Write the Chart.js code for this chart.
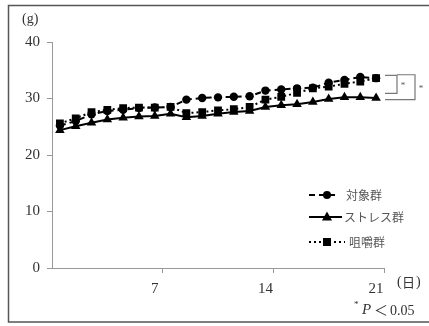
<!DOCTYPE html>
<html><head><meta charset="utf-8">
<script src="https://cdn.jsdelivr.net/npm/chart.js@4/dist/chart.umd.min.js"></script>
<style>html,body{margin:0;padding:0;background:#fff}#wrap{width:429px;height:326px;position:relative}</style>
</head><body><div id="wrap"><canvas id="c" width="429" height="326"></canvas></div>
<script>
const days = ['1','2','3','4','5','6','7','8','9','10','11','12','13','14','15','16','17','18','19','20','21'];
const shownDayLabels = ['7','14','21'];
const seriesNames = ['対象群','ストレス群','咀嚼群'];
const controlValues = [25.2,26.0,27.2,27.8,28.0,28.3,28.4,28.5,29.8,30.1,30.2,30.3,30.4,31.4,31.6,31.8,31.9,32.8,33.3,33.8,33.6];
const stressValues  = [24.4,25.1,25.7,26.3,26.6,26.8,26.9,27.3,26.7,26.9,27.3,27.6,27.8,28.5,28.8,29.0,29.4,29.9,30.2,30.2,30.1];
const chewValues    = [25.6,26.5,27.6,28.0,28.3,28.4,28.4,28.5,27.4,27.6,27.9,28.1,28.5,29.8,30.3,31.0,31.8,32.1,32.6,33.0,33.6];
const yTicks = [0,10,20,30,40];
const bracketRanges = [[34.1,30.9],[34.2,29.8]];

const serif = "'Liberation Serif','DejaVu Serif',serif";
const jp = "'Noto Sans CJK JP','Noto Sans',sans-serif";

const extras = {
  id:'extras',
  beforeDraw(chart){
    const c = chart.ctx;
    c.save();
    c.fillStyle='#fff'; c.fillRect(0,0,chart.width,chart.height);
    c.restore();
  },
  afterDraw(chart){
    const c = chart.ctx, ca = chart.chartArea, ys = chart.scales.y;
    c.save();
    // frame
    c.strokeStyle='#555'; c.lineWidth=1.5;
    c.strokeRect(8.5,5.5,440,316.5);
    // unit labels
    c.fillStyle='#333'; c.textBaseline='middle'; c.textAlign='left';
    c.font='14px '+serif;
    c.fillText('(g)',22,19);
    c.fillText('(',397,282);
    c.font='13px '+jp; c.fillText('日',402,282);
    c.font='14px '+serif; c.fillText(')',416,282);
    // significance note
    c.font='9px '+serif; c.fillText('*',354,305);
    c.font='italic 15px '+serif; c.fillText('P',362,310);
    c.font='14px '+jp; c.fillText('＜',374,310);
    c.font='14px '+serif; c.fillText('0.05',390,311);
    // brackets
    c.strokeStyle='#777'; c.lineWidth=1.2;
    const x0 = ca.right+1;
    const b1 = bracketRanges[0], b2 = bracketRanges[1];
    let t=ys.getPixelForValue(b1[0]), b=ys.getPixelForValue(b1[1]);
    c.beginPath(); c.moveTo(x0,t); c.lineTo(x0+12,t); c.lineTo(x0+12,b); c.lineTo(x0,b); c.stroke();
    c.fillStyle='#555'; c.font='9px '+serif; c.textAlign='center';
    c.fillText('*',x0+18,(t+b)/2+1);
    t=ys.getPixelForValue(b2[0]); b=ys.getPixelForValue(b2[1]);
    c.beginPath(); c.moveTo(x0+12,t); c.lineTo(x0+30,t); c.lineTo(x0+30,b); c.lineTo(x0,b); c.stroke();
    c.fillText('*',x0+36,(t+b)/2+1);
    // legend
    const rows=[195,217,242];
    chart.data.datasets.forEach((ds,i)=>{
      const y=rows[i];
      c.strokeStyle='#000'; c.lineWidth=2; c.setLineDash(ds.borderDash||[]);
      const xe = i===0?336:(i===1?342:345);
      c.beginPath(); c.moveTo(309,y); c.lineTo(xe,y); c.stroke();
      c.setLineDash([]);
      c.fillStyle='#000';
      const px=327;
      c.beginPath();
      if(ds.pointStyle==='circle'){ c.arc(px,y,4,0,Math.PI*2); }
      else if(ds.pointStyle==='triangle'){ c.moveTo(px,y-5.5); c.lineTo(px+5,y+3.5); c.lineTo(px-5,y+3.5); c.closePath(); }
      else { c.rect(px-4,y-4,8,8); }
      c.fill();
      c.fillStyle='#555'; c.font='12px '+jp; c.textAlign='left'; c.textBaseline='middle';
      const tx = i===0?346:(i===1?344:349);
      c.fillText(ds.label,tx,y);
    });
    c.restore();
  }
};

new Chart(document.getElementById('c'),{
  type:'line',
  data:{
    labels:days,
    datasets:[
      {label:seriesNames[0],data:controlValues,borderColor:'#000',backgroundColor:'#000',borderWidth:2,borderDash:[6,4],pointStyle:'circle',pointRadius:4.2,pointBorderWidth:0},
      {label:seriesNames[1],data:stressValues,borderColor:'#000',backgroundColor:'#000',borderWidth:2,pointStyle:'triangle',pointRadius:5.5,pointBorderWidth:0},
      {label:seriesNames[2],data:chewValues,borderColor:'#000',backgroundColor:'#000',borderWidth:2,borderDash:[2,3],pointStyle:'rect',pointRadius:5.5,pointBorderWidth:0}
    ]
  },
  options:{
    responsive:false,animation:false,
    layout:{padding:{top:42,right:45,left:0,bottom:0}},
    plugins:{legend:{display:false},tooltip:{enabled:false}},
    elements:{line:{tension:0}},
    scales:{
      x:{
        type:'category',offset:true,
        afterFit:s=>{s.height=58;},
        grid:{offset:true,drawOnChartArea:false,drawTicks:true,tickLength:5,lineWidth:1,
          color:ctx=>{ if(ctx.type==='scale') return '#999'; return (ctx.index===7||ctx.index===14)?'#999':'rgba(0,0,0,0)'; }},
        border:{display:true,color:'#999',width:1},
        ticks:{autoSkip:false,maxRotation:0,padding:7,color:'#333',font:{family:serif,size:15},
          callback:function(v){const l=this.getLabelForValue(v);return shownDayLabels.includes(l)?l:'';}}
      },
      y:{
        min:0,max:40,
        afterFit:s=>{s.width=52;},
        afterBuildTicks:s=>{s.ticks=yTicks.map(v=>({value:v}));},
        grid:{drawOnChartArea:false,drawTicks:true,tickLength:5,color:'#999'},
        border:{display:true,color:'#999',width:1},
        ticks:{padding:7,color:'#333',font:{family:serif,size:15}}
      }
    }
  },
  plugins:[extras]
});
</script></body></html>
